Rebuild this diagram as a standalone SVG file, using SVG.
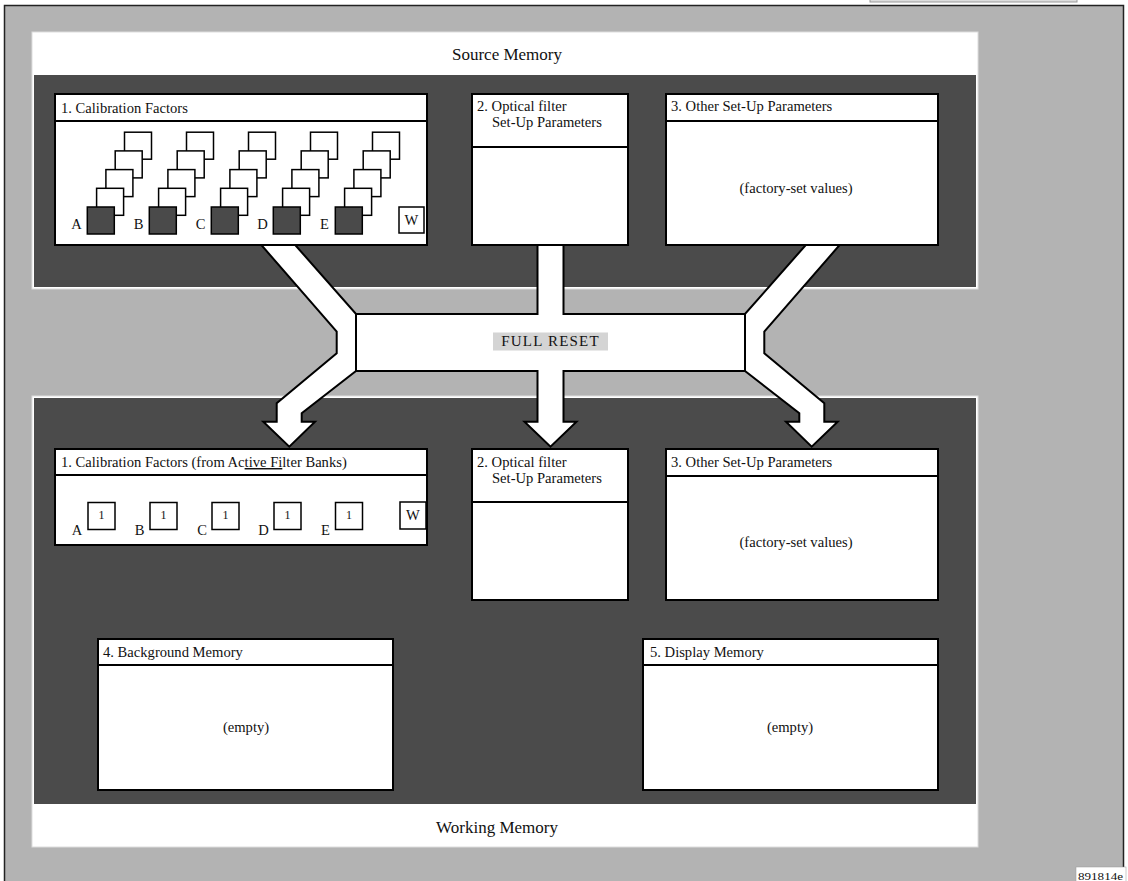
<svg xmlns="http://www.w3.org/2000/svg" width="1128" height="881" viewBox="0 0 1128 881">
<style>
text{font-family:"Liberation Serif","Times New Roman",serif;fill:#111}
.h{font-size:14.6px}
.t{font-size:17px}
.m{text-anchor:middle}
.box{fill:#fff;stroke:#000;stroke-width:2}
.ln{stroke:#000;stroke-width:2}
.sq{fill:#fff;stroke:#000;stroke-width:1.5}
.dk{fill:#4a4a4a;stroke:#000;stroke-width:1.5}
.arrow{fill:#fff;stroke:#000;stroke-width:2;stroke-linejoin:miter}
</style>
<defs>
<g id="stack">
<rect class="sq" x="37.2" y="-74.8" width="27" height="27"/>
<rect class="sq" x="27.9" y="-56.1" width="27" height="27"/>
<rect class="sq" x="18.6" y="-37.4" width="27" height="27"/>
<rect class="sq" x="9.3" y="-18.7" width="27" height="27"/>
<rect class="dk" x="0" y="0" width="27" height="27"/>
</g>
<g id="one">
<rect class="sq" x="0" y="0" width="27" height="27"/>
<text x="13.5" y="16" style="font-size:12px" class="m">1</text>
</g>
</defs>

<rect x="870" y="-10" width="207" height="12" fill="#ddd" stroke="#999"/>
<rect id="frame" x="4.5" y="5.5" width="1119" height="880" fill="#b3b3b3" stroke="#222" stroke-width="1.5"/>

<g id="source-memory">
<rect x="32" y="32" width="946" height="257" fill="#fff" stroke="#ddd" stroke-width="1"/>
<rect x="34" y="75" width="942" height="212" fill="#4b4b4b"/>
<text class="t m" x="507" y="60">Source Memory</text>
</g>

<g id="working-memory">
<rect x="32" y="396" width="946" height="451" fill="#fff" stroke="#ddd" stroke-width="1"/>
<rect x="34" y="398" width="942" height="406" fill="#4b4b4b"/>
<text class="t m" x="497" y="833">Working Memory</text>
</g>

<g id="connectors">
<polygon class="arrow" points="257,240 290.8,240 356,314 537.5,314 537.5,240 563.5,240 563.5,314 745,314 810.2,240 844,240 764.3,331.7 764.3,353.3 824.3,403.3 824.3,421.7 837.7,421.7 811.7,446.7 786,421.7 799.3,421.7 799.3,413.3 745,371 563.5,371 563.5,421.7 576.5,421.7 550.5,446.7 524.5,421.7 537.5,421.7 537.5,371 356,371 301.7,413.3 301.7,421.7 315,421.7 289.3,446.7 263.3,421.7 276.7,421.7 276.7,403.3 336.7,353.3 336.7,331.7"/>
<polyline points="356,314 356,371" fill="none" stroke="#000" stroke-width="2"/>
<polyline points="745,314 745,371" fill="none" stroke="#000" stroke-width="2"/>
<rect x="493" y="332.5" width="115" height="18" fill="#d4d4d4"/>
<text x="550.5" y="346" class="m" style="font-size:15px;letter-spacing:1.2px">FULL RESET</text>
</g>

<g id="src-calibration">
<rect class="box" x="55" y="94" width="372" height="151"/>
<line class="ln" x1="55" y1="121" x2="427" y2="121"/>
<text class="h" x="61" y="113">1. Calibration Factors</text>
<use href="#stack" x="87.3" y="207"/>
<use href="#stack" x="149.3" y="207"/>
<use href="#stack" x="211.3" y="207"/>
<use href="#stack" x="273.3" y="207"/>
<use href="#stack" x="335.3" y="207"/>
<text class="h m" x="76.5" y="229">A</text>
<text class="h m" x="138.5" y="229">B</text>
<text class="h m" x="200.5" y="229">C</text>
<text class="h m" x="262.5" y="229">D</text>
<text class="h m" x="324.5" y="229">E</text>
<rect class="sq" x="399" y="207" width="25" height="26"/>
<text class="h m" x="411.5" y="225">W</text>
</g>

<g id="src-optical">
<rect class="box" x="472" y="94" width="156" height="151"/>
<line class="ln" x1="472" y1="147" x2="628" y2="147"/>
<text class="h" x="477" y="111">2. Optical filter</text>
<text class="h" x="492" y="127">Set-Up Parameters</text>
</g>

<g id="src-other">
<rect class="box" x="666" y="94" width="272" height="151"/>
<line class="ln" x1="666" y1="121" x2="938" y2="121"/>
<text class="h" x="671" y="111">3. Other Set-Up Parameters</text>
<text class="h m" x="796" y="193">(factory-set values)</text>
</g>

<g id="wrk-calibration">
<rect class="box" x="55" y="449" width="372" height="96"/>
<line class="ln" x1="55" y1="475" x2="427" y2="475"/>
<text class="h" x="61" y="467">1. Calibration Factors (from Ac<tspan text-decoration="underline">tive Fi</tspan>lter Banks)</text>
<use href="#one" x="88" y="502.5"/>
<use href="#one" x="150" y="502.5"/>
<use href="#one" x="212" y="502.5"/>
<use href="#one" x="274" y="502.5"/>
<use href="#one" x="335.5" y="502.5"/>
<text class="h m" x="77" y="535">A</text>
<text class="h m" x="139.5" y="535">B</text>
<text class="h m" x="202" y="535">C</text>
<text class="h m" x="263.5" y="535">D</text>
<text class="h m" x="325.5" y="535">E</text>
<rect class="sq" x="400" y="502" width="26" height="27"/>
<text class="h m" x="413" y="520">W</text>
</g>

<g id="wrk-optical">
<rect class="box" x="472" y="449" width="156" height="151"/>
<line class="ln" x1="472" y1="502" x2="628" y2="502"/>
<text class="h" x="477" y="467">2. Optical filter</text>
<text class="h" x="492" y="483">Set-Up Parameters</text>
</g>

<g id="wrk-other">
<rect class="box" x="666" y="449" width="272" height="151"/>
<line class="ln" x1="666" y1="476" x2="938" y2="476"/>
<text class="h" x="671" y="467">3. Other Set-Up Parameters</text>
<text class="h m" x="796" y="547">(factory-set values)</text>
</g>

<g id="background-memory">
<rect class="box" x="98" y="639" width="295" height="151"/>
<line class="ln" x1="98" y1="665" x2="393" y2="665"/>
<text class="h" x="103" y="657">4. Background Memory</text>
<text class="h m" x="246" y="732">(empty)</text>
</g>

<g id="display-memory">
<rect class="box" x="643" y="639" width="295" height="151"/>
<line class="ln" x1="643" y1="665" x2="938" y2="665"/>
<text class="h" x="650" y="657">5. Display Memory</text>
<text class="h m" x="790" y="732">(empty)</text>
</g>

<g id="figure-id">
<rect x="1076" y="867" width="50" height="16" fill="#fff" stroke="#999" stroke-width="0.5"/>
<text x="1078" y="880" style="font-size:11px" textLength="45" lengthAdjust="spacingAndGlyphs">891814e</text>
</g>
</svg>
